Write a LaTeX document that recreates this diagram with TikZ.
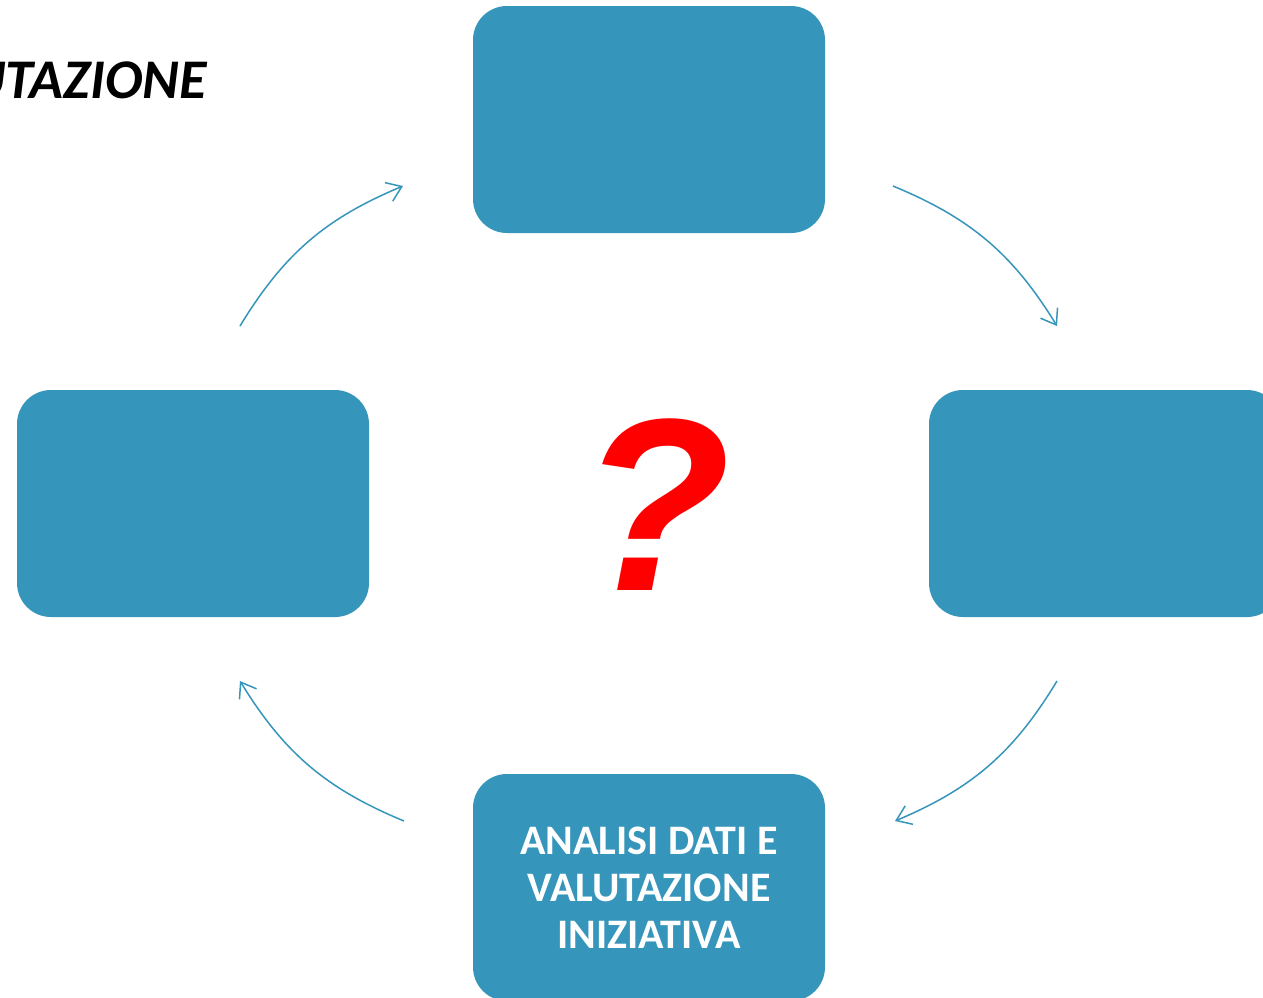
\documentclass[tikz,border=0pt]{standalone}
\usepackage{fontspec}
\setmainfont{Carlito}
\newfontfamily\qfont{Liberation Sans}
\usetikzlibrary{arrows.meta}
\definecolor{boxblue}{RGB}{54,149,186}
\definecolor{qred}{RGB}{255,0,0}
\tikzset{
  cyclebox/.style={fill=boxblue, draw=none, rounded corners=34pt, minimum width=352pt, minimum height=227pt, inner sep=0pt, text=white, font=\fontsize{42}{47}\selectfont\bfseries, align=center},
  cyclearrow/.style={draw=boxblue, line width=1.5pt, -{Straight Barb[length=14pt,width=20pt,line width=1.5pt]}},
}
\begin{document}
\begin{tikzpicture}[x=1pt,y=1pt]
\useasboundingbox (0,0) rectangle (1263,-997);
\begin{scope}
\clip (0,0) rectangle (1263,-997);
\node[cyclebox] (top) at (649,-119.5) {};
\node[cyclebox] (left) at (193,-503.5) {};
\node[cyclebox] (right) at (1105,-503.5) {};
\node[cyclebox] (bottom) at (649,-887.5) {ANALISI DATI E\\VALUTAZIONE\\INIZIATIVA};
\node[anchor=base east, inner sep=0pt, font=\fontsize{56}{60}\selectfont\bfseries\itshape] (title) at (207,-98) {UTAZIONE};
\end{scope}
\node[anchor=base, inner sep=0pt, text=qred, font=\qfont\fontsize{246}{250}\selectfont\bfseries\itshape] (q) at (656,-590) {?};
\coordinate (a1s) at (240,-326);
\coordinate (a1e) at (403,-186);
\coordinate (a2s) at (893,-186);
\coordinate (a2e) at (1057,-326);
\coordinate (a3s) at (1057,-681);
\coordinate (a3e) at (895,-821);
\coordinate (a4s) at (404,-821);
\coordinate (a4e) at (240,-681);
\draw[cyclearrow] (a1s) to[bend left=18] (a1e);
\draw[cyclearrow] (a2s) to[bend left=18] (a2e);
\draw[cyclearrow] (a3s) to[bend left=18] (a3e);
\draw[cyclearrow] (a4s) to[bend left=18] (a4e);
\end{tikzpicture}
\end{document}
